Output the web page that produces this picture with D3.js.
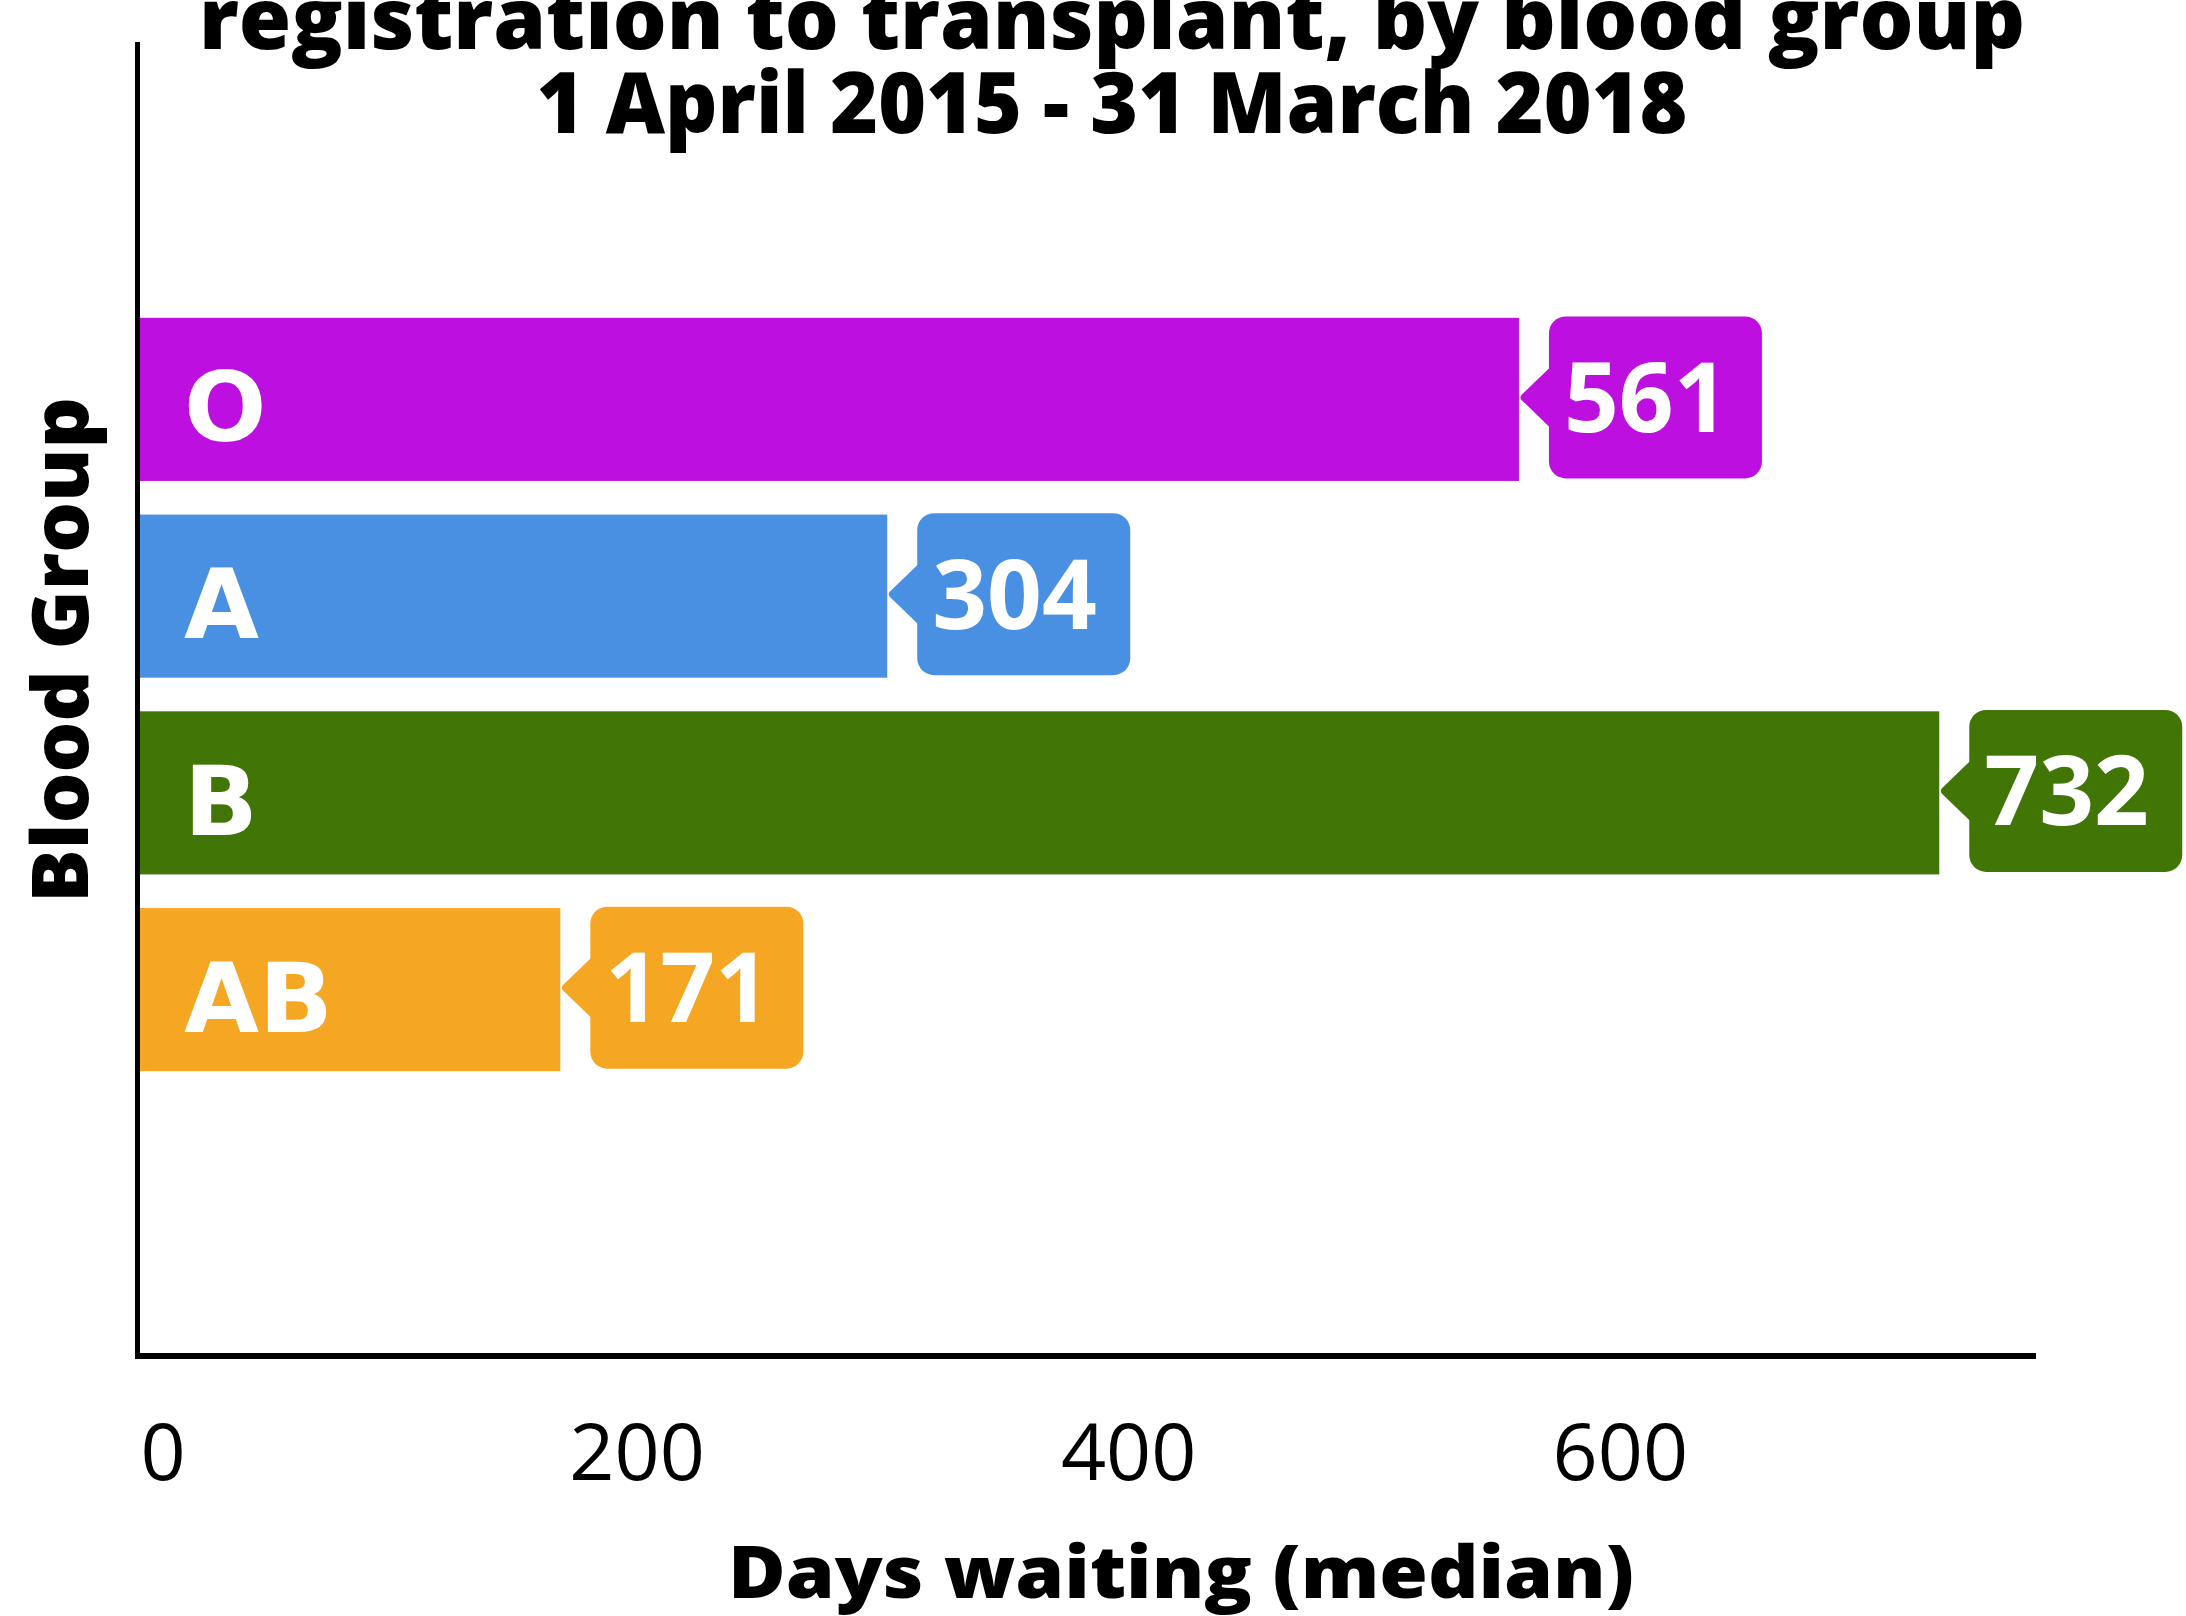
<!DOCTYPE html>
<html>
<head>
<meta charset="utf-8">
<script src="https://cdnjs.cloudflare.com/ajax/libs/d3/7.8.5/d3.min.js"></script>
<style>
  html, body { margin: 0; padding: 0; background: #fff; }
  svg { display: block; font-family: "Open Sans", "Noto Sans", sans-serif; }
</style>
</head>
<body>
<svg id="chart" width="2186" height="1616"></svg>
<script>
// ---- data ----
const groups = ["O", "A", "B", "AB"];
const days = [561, 304, 732, 171];
const colors = ["#BD10E0", "#4A90E2", "#417505", "#F5A623"];
const xTicks = [0, 200, 400, 600];
const titleLines = ["registration to transplant, by blood group", "1 April 2015 - 31 March 2018"];
const xLabel = "Days waiting (median)";
const yLabel = "Blood Group";

// ---- layout ----
const svg = d3.select("#chart");

const x = d3.scaleLinear().domain([0, 800]).range([140, 140 + 800 * 2.458]);
const y = d3.scaleBand().domain(groups).range([301, 1088]).paddingInner(0.171).paddingOuter(0.0855);

const axisY = 1356;
const axisEnd = 2036;

// title
const title = svg.append("g").attr("font-weight", 800).attr("fill", "#000");
title.append("text").attr("x", 1112).attr("y", 49).attr("text-anchor", "middle")
  .attr("font-size", 85).attr("textLength", 1826).attr("lengthAdjust", "spacingAndGlyphs")
  .text(titleLines[0]);
title.append("text").attr("x", 1112).attr("y", 133).attr("text-anchor", "middle")
  .attr("font-size", 85).attr("textLength", 1151).attr("lengthAdjust", "spacingAndGlyphs")
  .text(titleLines[1]);

// bars
const data = groups.map((g, i) => ({ g, v: days[i], c: colors[i] }));
const bars = svg.append("g");
bars.selectAll("rect").data(data).join("rect")
  .attr("x", x(0)).attr("y", d => y(d.g))
  .attr("width", d => x(d.v) - x(0)).attr("height", y.bandwidth())
  .attr("fill", d => d.c);

// bar letters
bars.selectAll("text.cat").data(data).join("text").attr("class", "cat")
  .attr("x", 184).attr("y", d => y(d.g) + y.bandwidth() / 2 + 42)
  .attr("font-size", 97).attr("font-weight", 700).attr("fill", "#fff")
  .style("font-family", "'DejaVu Sans', sans-serif")
  .text(d => d.g);

// callouts
const gap = 30, bw = 213, bh = 162, ptr = 30, ph = 31;
const call = svg.append("g").selectAll("g").data(data).join("g")
  .attr("transform", d => `translate(${x(d.v) + gap},${y(d.g) + y.bandwidth() / 2 - 2})`);
call.append("path")
  .attr("d", `M2,${-ph} L${-ptr + 3},-3 Q${-ptr},0 ${-ptr + 3},3 L2,${ph} Z`)
  .attr("fill", d => d.c);
call.append("rect").attr("x", 0).attr("y", -bh / 2).attr("width", bw).attr("height", bh)
  .attr("rx", 17).attr("fill", d => d.c);
call.append("text").attr("x", 15).attr("y", 34.5)
  .attr("font-size", 96).attr("font-weight", 700).attr("fill", "#fff")
  .text(d => d.v);

// axes lines
svg.append("line").attr("x1", 137.5).attr("x2", 137.5).attr("y1", 42).attr("y2", axisY + 3)
  .attr("stroke", "#000").attr("stroke-width", 5);
svg.append("line").attr("x1", 135).attr("x2", axisEnd).attr("y1", axisY).attr("y2", axisY)
  .attr("stroke", "#000").attr("stroke-width", 6);

// tick labels via d3 axis
const xAxis = d3.axisBottom(x).tickValues(xTicks).tickSize(0).tickPadding(0).tickFormat(d3.format("d"));
const gx = svg.append("g").attr("transform", `translate(0,1480)`).call(xAxis);
gx.select(".domain").remove();
gx.attr("font-family", null).attr("font-size", null);
gx.selectAll("text")
  .attr("y", 0).attr("dy", 0)
  .attr("font-size", 79).attr("fill", "#000")
  .style("font-family", "'Open Sans', sans-serif")
  .attr("dx", 5)
  .attr("text-anchor", d => d === 0 ? "start" : "middle")
  .filter(d => d === 0).attr("dx", 0);

// axis titles
svg.append("text").attr("x", 1181).attr("y", 1598).attr("text-anchor", "middle")
  .attr("font-size", 72).attr("font-weight", 800).attr("fill", "#000")
  .attr("textLength", 906).attr("lengthAdjust", "spacingAndGlyphs")
  .text(xLabel);
svg.append("text").attr("transform", "translate(88,650) rotate(-90)").attr("text-anchor", "middle")
  .attr("font-size", 78).attr("font-weight", 800).attr("fill", "#000")
  .attr("textLength", 506).attr("lengthAdjust", "spacingAndGlyphs")
  .text(yLabel);
</script>
</body>
</html>
